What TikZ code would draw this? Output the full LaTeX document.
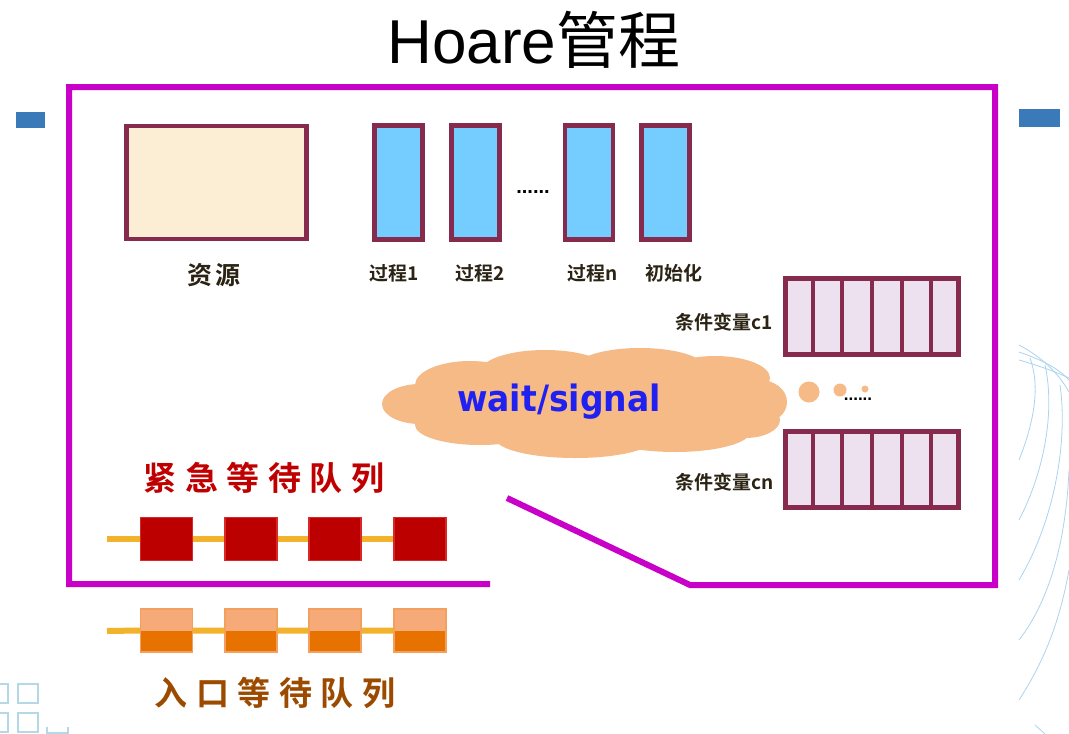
\documentclass[tikz,border=0pt]{standalone}
\usepackage{fontspec}
\setmainfont{Liberation Sans}
\newfontfamily\cjk{Noto Sans CJK SC}
\newfontfamily\cjkb{Noto Sans CJK SC Bold}
\newfontfamily\cjkq{Noto Sans CJK SC Bold}[LetterSpace=26]
\newfontfamily\cjkr{Noto Sans CJK SC Bold}[LetterSpace=10]
\newfontfamily\wsfont{DejaVu Sans Bold}
\usetikzlibrary{calc}
\definecolor{mag}{RGB}{200,0,200}
\definecolor{maroon}{RGB}{134,42,78}
\definecolor{resfill}{RGB}{251,238,213}
\definecolor{procblue}{RGB}{117,204,255}
\definecolor{cvfill}{RGB}{237,224,239}
\definecolor{cloudc}{RGB}{245,186,134}
\definecolor{wsblue}{RGB}{32,32,240}
\definecolor{qred}{RGB}{188,0,0}
\definecolor{qredb}{RGB}{216,40,40}
\definecolor{qyellow}{RGB}{242,178,44}
\definecolor{qor}{RGB}{232,114,0}
\definecolor{qorl}{RGB}{245,170,120}
\definecolor{redtxt}{RGB}{192,0,0}
\definecolor{browntxt}{RGB}{156,74,0}
\definecolor{lblc}{RGB}{43,35,20}
\definecolor{slideblue}{RGB}{59,122,185}
\definecolor{decoblue}{RGB}{170,212,240}
\definecolor{decosq}{RGB}{181,216,230}
\begin{document}
\begin{tikzpicture}[x=1pt,y=-1pt,
  frame/.style={draw=mag, line width=6pt, line join=miter},
  resbox/.style={draw=maroon, line width=4.5pt, fill=resfill, minimum width=180pt, minimum height=113pt, inner sep=0pt},
  pbox/.style={draw=maroon, line width=4.5pt, fill=procblue, minimum width=48pt, minimum height=114pt, inner sep=0pt},
  cvbox/.style={draw=maroon, line width=4.5pt, fill=cvfill, minimum width=173pt, minimum height=76pt, inner sep=0pt},
  cvsep/.style={draw=maroon, line width=4pt},
  lbl/.style={font=\cjkb\fontsize{19}{19}\selectfont, text=lblc, inner sep=0pt},
  rsq/.style={fill=qred, draw=qredb, line width=1.5pt, minimum width=52pt, minimum height=43pt, inner sep=0pt},
  osq/.style={fill=qor, draw=qorl!80!qor, line width=1.2pt, minimum width=52pt, minimum height=43pt, inner sep=0pt,
     path picture={\fill[qorl] (path picture bounding box.north west) rectangle (path picture bounding box.east);}},
  qline/.style={draw=qyellow, line width=6pt},
  dot/.style={circle, fill=cloudc, inner sep=0pt},
  deco/.style={draw=decoblue, line width=0.8pt},
  decosqs/.style={draw=decosq, line width=1.6pt}
]
\useasboundingbox (0,0) rectangle (1069,734);
\fill[white] (0,0) rectangle (1069,734);

% background slide decorations
\node[fill=slideblue, minimum width=29pt, minimum height=16pt, inner sep=0pt] (bl) at (30.5,120) {};
\node[fill=slideblue, minimum width=41pt, minimum height=18pt, inner sep=0pt] (br) at (1039.5,118) {};
\draw[decosqs] (-2,684) rectangle (8,703) (18,684) rectangle (38,703)
               (-2,713) rectangle (8,732) (18,713) rectangle (38,732) (47,727) -- (47,734) (47,733) -- (68,733) (68,727) -- (68,734);
\draw[deco] (1019,345) .. controls (1040,356) and (1058,372) .. (1069,392);
\draw[deco] (1019,352) .. controls (1042,360) and (1058,368) .. (1069,380);
\draw[deco] (1019,360) .. controls (1040,366) and (1056,372) .. (1069,378);
\draw[deco] (1030,358) .. controls (1040,385) and (1035,420) .. (1019,460);
\draw[deco] (1045,365) .. controls (1055,410) and (1045,470) .. (1019,520);
\draw[deco] (1060,385) .. controls (1068,440) and (1055,520) .. (1019,580);
\draw[deco] (1069,470) .. controls (1066,540) and (1050,600) .. (1019,640);
\draw[deco] (1069,570) .. controls (1060,620) and (1045,660) .. (1019,700);
\draw[deco] (1045,734) -- (1035,725);

% title
\node[inner sep=0pt] (title) at (534,40) {\fontsize{62}{62}\selectfont Hoare{\cjk 管程}};

% frame
\coordinate (fa) at (490,584);
\coordinate (fb) at (69,584);
\coordinate (fc) at (69,87);
\coordinate (fd) at (995,87);
\coordinate (fe) at (995,585);
\coordinate (ff) at (690,585);
\coordinate (fg) at (507,498);
\draw[frame] (fa) -- (fb) -- (fc) -- (fd) -- (fe) -- (ff) -- (fg);

% resource and processes
\node[resbox] (res) at (216.5,182.5) {};
\node[lbl, font=\cjkr\fontsize{25}{25}\selectfont, anchor=center] (reslbl) at (214,275) {资源};
\node[pbox] (p1) at (398.5,182.5) {};
\node[pbox] (p2) at (475.5,182.5) {};
\node[pbox] (pn) at (589,182.5) {};
\node[pbox] (pi) at (665.5,182.5) {};
\node[inner sep=0pt, font=\bfseries\fontsize{20}{20}\selectfont] (pdots) at (533,192) {......};
\node[lbl] (l1) at (394,273) {过程1};
\node[lbl] (l2) at (480,273) {过程2};
\node[lbl] (ln) at (593,273) {过程n};
\node[lbl] (li) at (674,273) {初始化};

% condition variables
\node[cvbox] (cv1) at (872,316.5) {};
\node[cvbox] (cvn) at (872,469.5) {};
\foreach \k in {1,...,5}{
  \draw[cvsep] ($(cv1.north west)!\k/6!(cv1.north east)$) -- ($(cv1.south west)!\k/6!(cv1.south east)$);
  \draw[cvsep] ($(cvn.north west)!\k/6!(cvn.north east)$) -- ($(cvn.south west)!\k/6!(cvn.south east)$);
}
\node[lbl, anchor=east] (cv1lbl) at (773,322) {条件变量c1};
\node[lbl, anchor=east] (cvnlbl) at (774,482) {条件变量cn};
\node[dot, minimum size=21pt] (d1) at (809,392) {};
\node[dot, minimum size=13pt] (d2) at (840,390) {};
\node[dot, minimum size=7pt] (d3) at (865,389) {};
\node[inner sep=0pt, font=\bfseries\fontsize{17}{17}\selectfont] (cvdots) at (858,399) {......};

% cloud (union of ellipses)
\fill[cloudc]
  (585,405) ellipse [x radius=175, y radius=38]
  (420,404) ellipse [x radius=38, y radius=20]
  (470,385) ellipse [x radius=55, y radius=24]
  (545,372) ellipse [x radius=65, y radius=22]
  (640,368) ellipse [x radius=65, y radius=20]
  (715,378) ellipse [x radius=55, y radius=22]
  (760,402) ellipse [x radius=27, y radius=22]
  (480,425) ellipse [x radius=65, y radius=20]
  (575,438) ellipse [x radius=80, y radius=20]
  (675,432) ellipse [x radius=75, y radius=20]
  (745,420) ellipse [x radius=35, y radius=18];
\node[inner sep=0pt, text=wsblue, font=\wsfont\fontsize{33}{33}\selectfont, yscale=1.1] (ws) at (559,402) {wait/signal};

% urgent queue
\node[inner sep=0pt, text=redtxt, font=\cjkq\fontsize{33}{33}\selectfont] (urg) at (264,478) {紧急等待队列};
\coordinate (rqs) at (107,539);
\node[rsq] (rq1) at (166.5,539) {};
\node[rsq] (rq2) at (251,539) {};
\node[rsq] (rq3) at (335,539) {};
\node[rsq] (rq4) at (420,539) {};
\draw[qline] (rqs) -- (rq1.west) (rq1.east) -- (rq2.west) (rq2.east) -- (rq3.west) (rq3.east) -- (rq4.west);

% entry queue
\coordinate (oqs) at (107,631);
\node[osq] (oq1) at (166.5,630.5) {};
\node[osq] (oq2) at (251,630.5) {};
\node[osq] (oq3) at (335,630.5) {};
\node[osq] (oq4) at (420,630.5) {};
\draw[qline] (oqs) -- (oq1.west) (oq1.east) -- (oq2.west) (oq2.east) -- (oq3.west) (oq3.east) -- (oq4.west);
\node[inner sep=0pt, text=browntxt, font=\cjkq\fontsize{33}{33}\selectfont] (ent) at (275,693) {入口等待队列};
\end{tikzpicture}
\end{document}
